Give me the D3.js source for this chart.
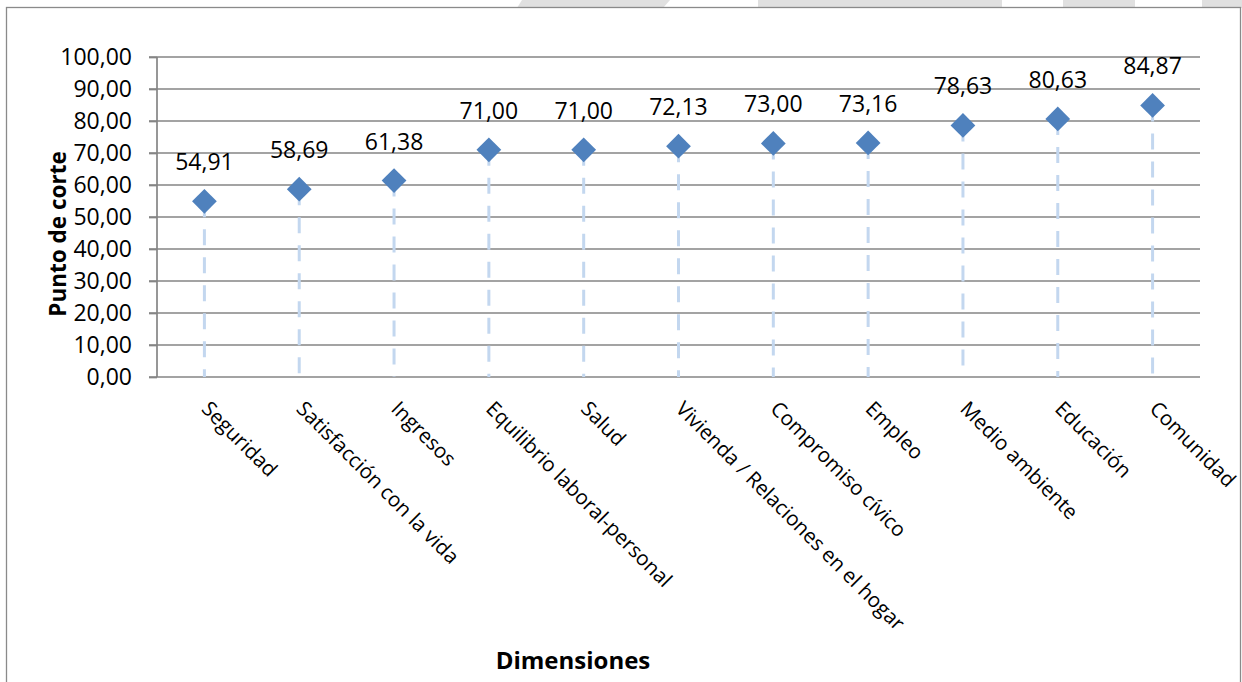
<!DOCTYPE html>
<html><head><meta charset="utf-8">
<script src="https://cdn.jsdelivr.net/npm/d3@7"></script>
<style>html,body{margin:0;padding:0;background:#fff;}svg{display:block;}</style>
</head><body>
<svg id="c" width="1242" height="682"></svg>
<script>
const categories = ["Seguridad","Satisfacción con la vida","Ingresos","Equilibrio laboral-personal","Salud","Vivienda / Relaciones en el hogar","Compromiso cívico","Empleo","Medio ambiente","Educación","Comunidad"];
const values = [54.91, 58.69, 61.38, 71.00, 71.00, 72.13, 73.00, 73.16, 78.63, 80.63, 84.87];
const yTicks = [0,10,20,30,40,50,60,70,80,90,100];
const yTitle = "Punto de corte";
const xTitle = "Dimensiones";

(function(){
const locale = d3.formatLocale({decimal: ",", thousands: ".", grouping: [3], currency: ["", "€"]});
const fmt = locale.format(".2f");

const svg = d3.select("#c");
const FONT = "'Open Sans', 'Noto Sans', sans-serif";

// watermark strip above frame
const bands = [[522,670,517,663],[758,1002,758,1002],[1063,1135,1063,1135],[1202,1242,1202,1242]];
svg.selectAll("polygon.wm").data(bands).join("polygon")
  .attr("points", d => `${d[0]},0 ${d[1]},0 ${d[3]},8 ${d[2]},8`)
  .attr("fill", "#e0e0e0");

// chart frame
svg.append("rect").attr("x", 6.5).attr("y", 7.5).attr("width", 1234).attr("height", 700)
  .attr("fill", "#fff").attr("stroke", "#8a8a8a").attr("stroke-width", 1.3);

const pLeft = 157, pRight = 1200, pTop = 57, pBottom = 377;
const x = d3.scaleBand().domain(categories).range([pLeft, pRight]);
const y = d3.scaleLinear().domain([0, 100]).range([pBottom, pTop]);
const cx = c => x(c) + x.bandwidth() / 2;

// gridlines
svg.append("g").selectAll("line").data(yTicks).join("line")
  .attr("x1", pLeft - 8).attr("x2", pRight)
  .attr("y1", d => y(d)).attr("y2", d => y(d))
  .attr("stroke", "#858585").attr("stroke-width", 1.7);

// y axis
const yAxis = d3.axisLeft(y).tickValues(yTicks).tickFormat(fmt).tickSize(8).tickPadding(17);
const ga = svg.append("g").attr("transform", `translate(${pLeft},0)`).call(yAxis);
ga.select(".domain").attr("stroke", "#858585").attr("stroke-width", 1.7).attr("d", `M0,${pTop}V${pBottom}`);
ga.selectAll(".tick line").attr("stroke", "#858585").attr("stroke-width", 1.7);
ga.selectAll(".tick text").attr("font-family", FONT).attr("font-size", 23).attr("fill", "#000");

// drop lines
svg.append("g").selectAll("line").data(values).join("line")
  .attr("x1", (d, i) => cx(categories[i])).attr("x2", (d, i) => cx(categories[i]))
  .attr("y1", d => y(d)).attr("y2", y(0))
  .attr("stroke", "#c3d7ef").attr("stroke-width", 3).attr("stroke-dasharray", "16 12");

// markers
const sym = d3.symbol(d3.symbolSquare, 17.5 * 17.5);
svg.append("g").selectAll("path").data(values).join("path")
  .attr("d", sym)
  .attr("transform", (d, i) => `translate(${cx(categories[i])},${y(d)}) rotate(45)`)
  .attr("fill", "#4f81bd");

// data labels
svg.append("g").selectAll("text").data(values).join("text")
  .attr("x", (d, i) => cx(categories[i])).attr("y", d => y(d) - 31)
  .attr("text-anchor", "middle").attr("font-family", FONT).attr("font-size", 23).attr("fill", "#000")
  .text(d => fmt(d));

// category labels
svg.append("g").selectAll("text").data(categories).join("text")
  .attr("transform", c => `translate(${cx(c) - 4},410) rotate(45)`)
  .attr("font-family", FONT).attr("font-size", 20.5).attr("fill", "#000")
  .text(c => c);

// axis titles
svg.append("text").attr("transform", "translate(57,234) rotate(-90)")
  .attr("text-anchor", "middle").attr("dominant-baseline", "central")
  .attr("font-family", FONT).attr("font-weight", "bold").attr("font-size", 22.5).attr("fill", "#000")
  .text(yTitle);
svg.append("text").attr("x", 573).attr("y", 669)
  .attr("text-anchor", "middle")
  .attr("font-family", FONT).attr("font-weight", "bold").attr("font-size", 24).attr("fill", "#000")
  .text(xTitle);
})();
</script>
</body></html>
